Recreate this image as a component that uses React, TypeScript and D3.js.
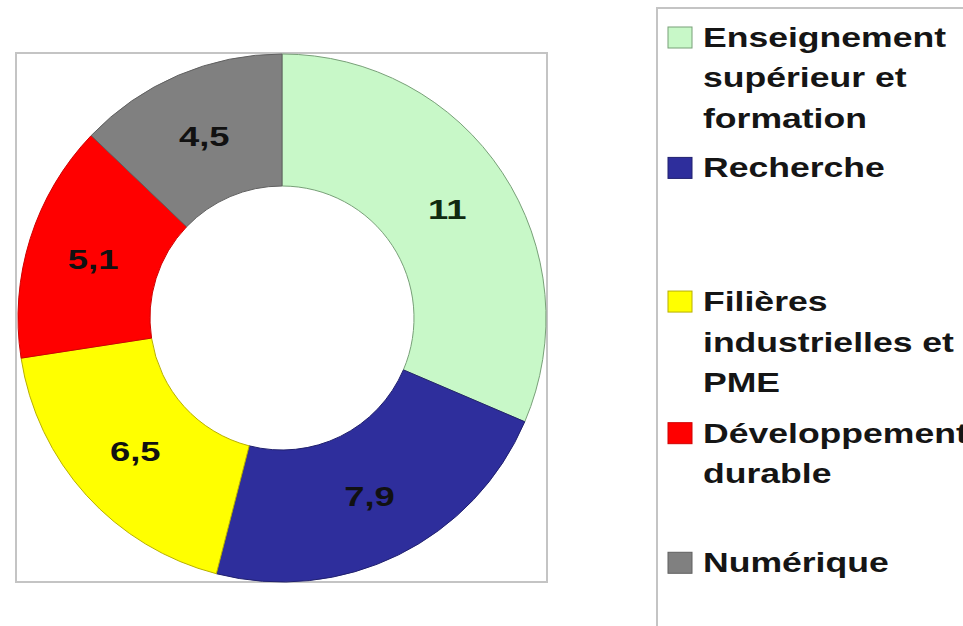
import React, { useRef, useEffect } from 'react';
import * as d3 from 'd3';

// data
const categories = [
  'Enseignement supérieur et formation',
  'Recherche',
  'Filières industrielles et PME',
  'Développement durable',
  'Numérique',
];
const values = [11, 7.9, 6.5, 5.1, 4.5];
const valueLabels = ['11', '7,9', '6,5', '5,1', '4,5'];
const legendLines = [
  ['Enseignement', 'supérieur et', 'formation'],
  ['Recherche'],
  ['Filières', 'industrielles et', 'PME'],
  ['Développement', 'durable'],
  ['Numérique'],
];
const colors = ['#c8f8c8', '#2e2e9c', '#ffff00', '#ff0000', '#808080'];
const strokes = ['#78a078', '#20206e', '#b8b000', '#d00000', '#606060'];
// vertical gap (in lines) before each legend entry
const legendGaps = [0, 0.22, 2.3, 0.25, 1.2];

const App = () => {
  const svgRef = useRef<SVGSVGElement>(null);

  useEffect(() => {
    const svg = d3.select(svgRef.current);
    svg.selectAll('*').remove();

    const cx = 282, cy = 318;
    const outerR = 264, innerR = 132;

    // plot frame
    svg.append('rect')
      .attr('x', 16).attr('y', 53)
      .attr('width', 531).attr('height', 529)
      .attr('fill', '#fff')
      .attr('stroke', '#c4c4c4')
      .attr('stroke-width', 2);

    const data = values.map((v, i) => ({ v, i }));
    const pie = d3.pie<any>().value(d => d.v).sort(null);
    const arc = d3.arc<any>().innerRadius(innerR).outerRadius(outerR);

    const g = svg.append('g').attr('transform', `translate(${cx},${cy})`);
    const arcs = pie(data);

    g.selectAll('path')
      .data(arcs)
      .enter()
      .append('path')
      .attr('d', arc)
      .attr('fill', d => colors[d.data.i])
      .attr('stroke', d => strokes[d.data.i])
      .attr('stroke-width', 1);

    g.selectAll('text.val')
      .data(arcs)
      .enter()
      .append('text')
      .attr('class', 'val')
      .attr('transform', d => {
        const [x, y] = arc.centroid(d);
        return `translate(${x},${y}) scale(1.3,1)`;
      })
      .attr('text-anchor', 'middle')
      .attr('dy', '0.36em')
      .style('font-family', '"Liberation Sans", Arial, sans-serif')
      .style('font-weight', 'bold')
      .style('font-size', '28px')
      .style('fill', (d, i) => (i === 0 ? '#102a10' : '#111'))
      .text(d => valueLabels[d.data.i]);

    // legend
    svg.append('rect')
      .attr('x', 657).attr('y', 8)
      .attr('width', 340).attr('height', 640)
      .attr('fill', '#fff')
      .attr('stroke', '#c4c4c4')
      .attr('stroke-width', 2);

    const lineH = 40.5;
    let base = 47;
    categories.forEach((c, i) => {
      base += legendGaps[i] * lineH + (i > 0 ? lineH : 0);
      const item = svg.append('g').attr('class', 'legend-item');
      item.append('rect')
        .attr('x', 668).attr('y', base - 20)
        .attr('width', 24).attr('height', 21)
        .attr('fill', colors[i])
        .attr('stroke', strokes[i])
        .attr('stroke-width', 1);
      const t = item.append('text')
        .attr('transform', `translate(703,0) scale(1.27,1)`)
        .style('font-family', '"Liberation Sans", Arial, sans-serif')
        .style('font-weight', 'bold')
        .style('font-size', '28px')
        .style('fill', '#151515');
      legendLines[i].forEach((line, k) => {
        t.append('tspan').attr('x', 0).attr('y', base + k * lineH).text(line);
      });
      base += (legendLines[i].length - 1) * lineH;
    });
  }, []);

  return (
    <div style={{ position: 'absolute', left: 0, top: 0 }}>
      <svg ref={svgRef} width={963} height={626} style={{ display: 'block', background: '#fff' }}></svg>
    </div>
  );
};

export default App;
